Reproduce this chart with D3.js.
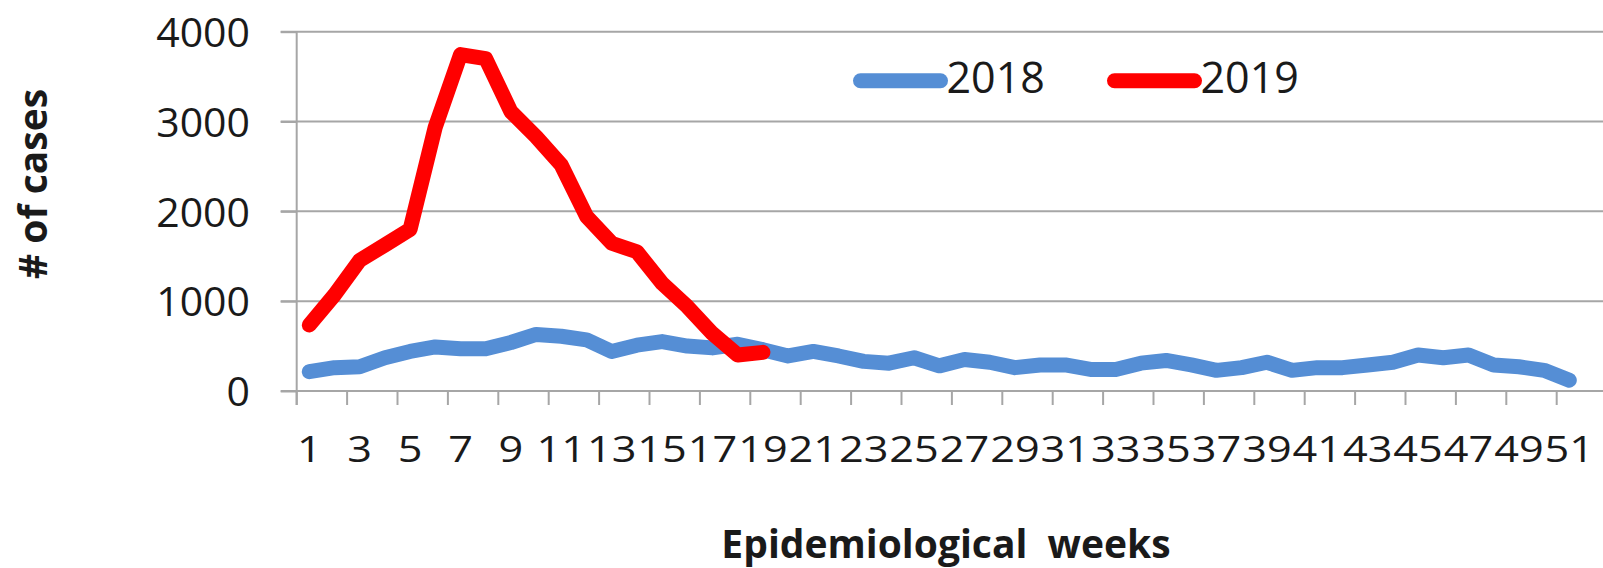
<!DOCTYPE html>
<html>
<head>
<meta charset="utf-8">
<script src="https://cdn.jsdelivr.net/npm/d3@7"></script>
<style>
  html, body { margin: 0; padding: 0; background: #fff; }
  svg { display: block; }
  text { font-family: "Open Sans", "Noto Sans", sans-serif; fill: #1a1a1a; }
</style>
</head>
<body>
<svg id="chart" width="1603" height="568"></svg>
<script>
// ---- data ----
const weeks = d3.range(1, 53); // epidemiological weeks 1..52
const cases2018 = [215, 260, 270, 370, 440, 490, 470, 470, 540, 630,
                   610, 570, 440, 510, 550, 500, 480, 520, 460, 390,
                   440, 390, 330, 310, 370, 280, 350, 320, 260, 290,
                   290, 240, 240, 310, 340, 290, 230, 260, 320, 230,
                   260, 260, 290, 320, 400, 370, 400, 290, 270, 230,
                   120];
const cases2019 = [735, 1070, 1455, 1625, 1800, 2940, 3745, 3700, 3110, 2830,
                   2515, 1945, 1645, 1550, 1200, 940, 640, 400, 430];
const yTicks = [0, 1000, 2000, 3000, 4000];
const xTickLabels = weeks.filter(w => w % 2 === 1 && w <= 51);
const seriesNames = ["2018", "2019"];
const seriesColors = ["#558ED5", "#FF0000"];

// ---- layout ----
const W = 1603, H = 568;
const x0 = 296.7, step = 25.2, y0 = 391, yTop = 31.7;
const svg = d3.select("#chart");

const x = d3.scaleBand().domain(weeks).range([x0, x0 + step * weeks.length]).paddingInner(0).paddingOuter(0);
const y = d3.scaleLinear().domain([0, 4000]).range([y0, yTop]);
const gridColor = "#A6A6A6";

// gridlines
svg.append("g").selectAll("line").data(yTicks).join("line")
  .attr("x1", x0 - 16).attr("x2", W)
  .attr("y1", d => y(d)).attr("y2", d => y(d))
  .attr("stroke", gridColor).attr("stroke-width", 2);

// y axis
const yAxis = svg.append("g").attr("transform", `translate(${x0},0)`)
  .call(d3.axisLeft(y).tickValues(yTicks).tickSize(16).tickPadding(30.7).tickFormat(d3.format("d")));
yAxis.select(".domain").remove();
yAxis.selectAll(".tick line").attr("stroke", gridColor).attr("stroke-width", 2);
yAxis.selectAll(".tick text")
  .attr("font-size", 41).attr("font-family", "Open Sans").attr("fill", "#1a1a1a")
  .attr("dy", "0.36em");

// y axis vertical line
svg.append("line").attr("x1", x0).attr("x2", x0).attr("y1", yTop).attr("y2", y0 + 14)
  .attr("stroke", gridColor).attr("stroke-width", 2);

// x axis tick marks at category boundaries (every 2)
const boundaryWeeks = weeks.filter(w => w % 2 === 1);
svg.append("g").selectAll("line").data(boundaryWeeks).join("line")
  .attr("x1", d => x(d)).attr("x2", d => x(d))
  .attr("y1", y0).attr("y2", y0 + 14)
  .attr("stroke", gridColor).attr("stroke-width", 2);

// x axis labels
const xAxis = svg.append("g").attr("transform", `translate(0,${y0})`)
  .call(d3.axisBottom(x).tickValues(xTickLabels).tickSize(0));
xAxis.select(".domain").remove();
xAxis.selectAll(".tick text")
  .attr("font-size", 37).attr("font-family", "Open Sans").attr("fill", "#1a1a1a")
  .attr("y", 70.7).attr("dy", null)
  .attr("transform", "scale(1.17,1)");

// lines
const line = d3.line().x((d, i) => x(weeks[i]) + x.bandwidth() / 2).y(d => y(d));
[cases2018, cases2019].forEach((s, k) => {
  svg.append("path").datum(s)
    .attr("d", line)
    .attr("fill", "none")
    .attr("stroke", seriesColors[k])
    .attr("stroke-width", 15)
    .attr("stroke-linejoin", "round")
    .attr("stroke-linecap", "round");
});

// legend
const legendX = [860.5, 1114.5];
seriesNames.forEach((name, k) => {
  svg.append("line")
    .attr("x1", legendX[k]).attr("x2", legendX[k] + 80)
    .attr("y1", 80.7).attr("y2", 80.7)
    .attr("stroke", seriesColors[k]).attr("stroke-width", 15)
    .attr("stroke-linecap", "round");
  svg.append("text")
    .attr("x", legendX[k] + 86).attr("y", 93.3)
    .attr("font-size", 43)
    .text(name);
});

// axis titles
svg.append("text")
  .attr("transform", "translate(46.7,184) rotate(-90)")
  .attr("text-anchor", "middle")
  .attr("font-size", 39).attr("font-weight", "bold")
  .text("# of cases");

svg.append("text")
  .attr("x", 946).attr("y", 558)
  .attr("text-anchor", "middle")
  .attr("font-size", 39).attr("font-weight", "bold")
  .attr("xml:space", "preserve")
  .text("Epidemiological  weeks");
</script>
</body>
</html>
